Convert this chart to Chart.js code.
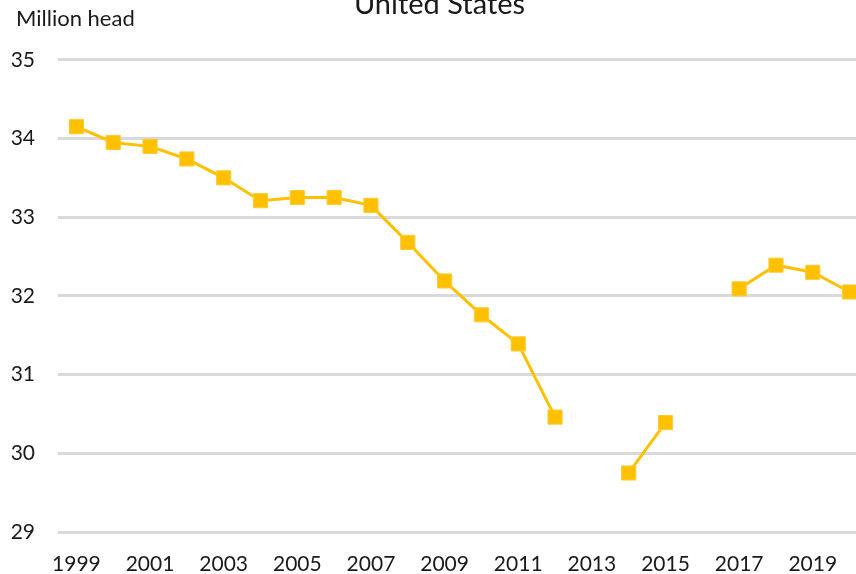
<!DOCTYPE html>
<html>
<head>
<meta charset="utf-8">
<script src="https://cdn.jsdelivr.net/npm/chart.js@4/dist/chart.umd.min.js"></script>
<style>
  html, body { margin: 0; padding: 0; background: #fff; overflow: hidden; width: 856px; height: 574px; }
  #wrap { position: absolute; left: 0; top: -20px; width: 884px; height: 600px; }
</style>
</head>
<body>
<div id="wrap"><canvas id="myChart" width="884" height="600"></canvas></div>
<script>
var years = ['1999','2000','2001','2002','2003','2004','2005','2006','2007','2008','2009',
             '2010','2011','2012','2013','2014','2015','2016','2017','2018','2019','2020'];
var head = [34.15, 33.95, 33.90, 33.74, 33.50, 33.21, 33.25, 33.25, 33.15, 32.68, 32.19,
            31.76, 31.39, 30.46, null, 29.75, 30.39, null, 32.09, 32.39, 32.30, 32.05];
var yTicks = [29, 30, 31, 32, 33, 34, 35];
var unitLabel = 'Million head';
var chartTitle = 'United States';

var FONT = 'Lato, "Open Sans", sans-serif';

// unit text above the y axis
var unitText = {
  id: 'unitText',
  afterDraw: function(chart) {
    var ctx = chart.ctx;
    ctx.save();
    ctx.font = '22px ' + FONT;
    ctx.fillStyle = '#1a1a1a';
    ctx.textBaseline = 'middle';
    ctx.textAlign = 'left';
    ctx.fillText(unitLabel, 16, 39);
    ctx.restore();
  }
};

const config = {
  type: 'line',
  data: {
    labels: years,
    datasets: [{
      label: chartTitle,
      data: head,
      borderColor: '#FFC000',
      backgroundColor: '#FFC000',
      borderWidth: 3,
      pointStyle: 'rect',
      pointRadius: 10,
      pointBorderColor: '#FFCB33',
      pointBorderWidth: 1,
      pointBackgroundColor: '#FFC000',
      spanGaps: false,
      tension: 0
    }]
  },
  options: {
    responsive: false,
    animation: false,
    layout: { padding: { left: 11, right: 16, top: 0, bottom: 2 } },
    plugins: {
      legend: { display: false },
      tooltip: { enabled: false },
      title: {
        display: true,
        text: chartTitle,
        color: '#1a1a1a',
        font: { family: FONT, size: 29, weight: 'normal' },
        padding: { top: 7, bottom: 38 }
      }
    },
    scales: {
      x: {
        offset: true,
        grid: { display: false, drawTicks: false, offset: true },
        border: { display: false },
        afterFit: function(axis) {
          axis.height = 46;
          axis.paddingLeft = 0;
          axis.paddingRight = 0;
        },
        ticks: {
          autoSkip: false,
          maxRotation: 0,
          padding: 20,
          color: '#1a1a1a',
          font: { family: FONT, size: 21 },
          callback: function(val, idx) {
            return idx % 2 === 0 ? years[idx] : '';
          }
        }
      },
      y: {
        min: yTicks[0],
        max: yTicks[yTicks.length - 1],
        grid: { color: '#D9D9D9', lineWidth: 3, drawTicks: false },
        border: { display: false },
        afterBuildTicks: function(axis) {
          axis.ticks = yTicks.map(function(v) { return { value: v }; });
        },
        afterFit: function(axis) {
          axis.width = 47;
        },
        ticks: {
          padding: 23,
          color: '#1a1a1a',
          font: { family: FONT, size: 21 }
        }
      }
    }
  },
  plugins: [unitText]
};

var myChart = new Chart(
  document.getElementById('myChart'),
  config
);
</script>
</body>
</html>
